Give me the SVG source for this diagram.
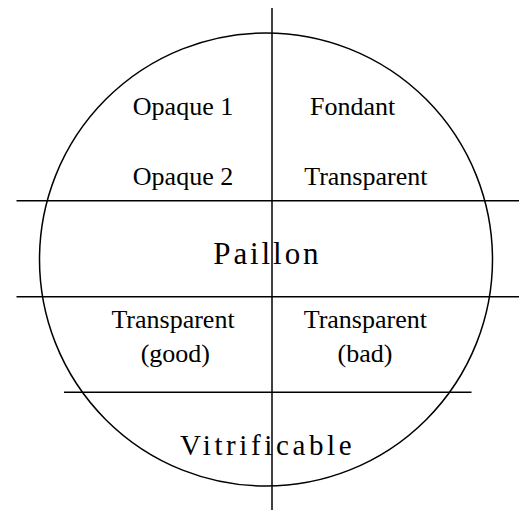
<svg xmlns="http://www.w3.org/2000/svg" width="525" height="510" viewBox="0 0 525 510">
<style>
.ln{stroke:#000;stroke-width:1.5;fill:none}
.t{font-family:"Liberation Serif","Times New Roman",serif;font-size:26px;fill:#000;text-anchor:middle}
.big{font-family:"Liberation Serif","Times New Roman",serif;fill:#000}
</style>
<rect width="525" height="510" fill="#fff"/>
<g id="lines">
<circle class="ln" cx="266" cy="259.5" r="226.5"/>
<line class="ln" x1="272" y1="8" x2="272" y2="510"/>
<line class="ln" x1="16.5" y1="200.7" x2="519" y2="200.7"/>
<line class="ln" x1="16.5" y1="296.7" x2="519" y2="296.7"/>
<line class="ln" x1="64" y1="392.3" x2="471.5" y2="392.3"/>
</g>
<g id="opaque1"><text class="t" x="183" y="115">Opaque 1</text></g>
<g id="fondant"><text class="t" x="352.7" y="115">Fondant</text></g>
<g id="opaque2"><text class="t" x="183" y="185">Opaque 2</text></g>
<g id="transparent-top"><text class="t" x="365.8" y="185">Transparent</text></g>
<g id="paillon"><text class="big" x="213.3" y="264.3" font-size="31" letter-spacing="2.9">Paillon</text></g>
<g id="transparent-good"><text class="t" x="173" y="328.3">Transparent</text><text class="t" x="175.3" y="362">(good)</text></g>
<g id="transparent-bad"><text class="t" x="365.3" y="328.3">Transparent</text><text class="t" x="365" y="362">(bad)</text></g>
<g id="vitrificable"><text class="big" x="180" y="455" font-size="29" letter-spacing="3.6">Vitrificable</text></g>
</svg>
